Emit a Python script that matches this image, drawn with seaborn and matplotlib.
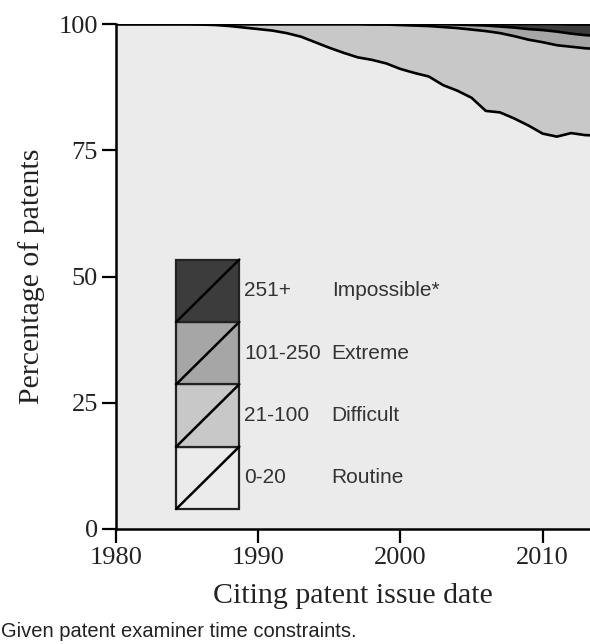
import numpy as np
import pandas as pd
import matplotlib
matplotlib.use("Agg")
import matplotlib.pyplot as plt
from matplotlib.patches import Rectangle
import seaborn as sns

# Share of citing patents by number of prior-art references, per issue year
years = list(range(1980, 2015))
routine = [100.0, 100.0, 100.0, 100.0, 100.0, 100.0, 99.9, 99.8, 99.6, 99.3,
           99.0, 98.7, 98.2, 97.5, 96.4, 95.3, 94.3, 93.4, 92.9, 92.2,
           91.1, 90.3, 89.6, 87.9, 86.8, 85.4, 82.8, 82.5, 81.3, 79.9,
           78.3, 77.7, 78.4, 78.0, 77.9]
difficult = [0.0, 0.0, 0.0, 0.0, 0.0, 0.0, 0.1, 0.2, 0.4, 0.7,
             1.0, 1.3, 1.8, 2.5, 3.6, 4.7, 5.7, 6.6, 7.0, 7.7,
             8.7, 9.4, 10.0, 11.5, 12.4, 13.5, 15.8, 15.7, 16.3, 17.0,
             18.1, 18.1, 17.1, 17.2, 17.1]
extreme = [0.0, 0.0, 0.0, 0.0, 0.0, 0.0, 0.0, 0.0, 0.0, 0.0,
           0.0, 0.0, 0.0, 0.0, 0.0, 0.0, 0.0, 0.0, 0.1, 0.1,
           0.2, 0.3, 0.4, 0.6, 0.7, 0.9, 1.1, 1.3, 1.7, 2.1,
           2.4, 2.7, 2.6, 2.6, 2.6]
impossible = [0.0, 0.0, 0.0, 0.0, 0.0, 0.0, 0.0, 0.0, 0.0, 0.0,
              0.0, 0.0, 0.0, 0.0, 0.0, 0.0, 0.0, 0.0, 0.0, 0.0,
              0.0, 0.0, 0.0, 0.0, 0.1, 0.2, 0.3, 0.5, 0.7, 1.0,
              1.2, 1.5, 1.8, 2.1, 2.3]

ranges = ["0-20", "21-100", "101-250", "251+"]
names = ["Routine", "Difficult", "Extreme", "Impossible*"]
colors = ["#ebebeb", "#c8c8c8", "#a6a6a6", "#3c3c3c"]
footnote = "Given patent examiner time constraints."

sns.set_style("ticks")
serif = ["Liberation Serif", "DejaVu Serif"]
sans = ["Liberation Sans", "DejaVu Sans"]

fig = plt.figure(figsize=(5.9, 6.44), dpi=100)
ax = fig.add_axes([0.1966, 0.1786, 0.8034, 0.7841])

layers = [routine, difficult, extreme, impossible]
ax.stackplot(years, *layers, colors=colors, linewidth=0)

# boundary lines between the stacked layers
cum = np.cumsum(np.array(layers), axis=0)
long = pd.DataFrame({
    "year": years * 4,
    "value": np.concatenate(cum),
    "layer": np.repeat(names, len(years)),
})
sns.lineplot(data=long, x="year", y="value", units="layer", estimator=None,
             color="black", linewidth=1.9, ax=ax)

ax.set_xlim(1980, 2013.33)
ax.set_ylim(0, 100)
ax.set_xticks([1980, 1990, 2000, 2010])
ax.set_yticks([0, 25, 50, 75, 100])
for lab in ax.get_xticklabels() + ax.get_yticklabels():
    lab.set_family(serif)
    lab.set_fontsize(19)
    lab.set_color("#222222")
ax.tick_params(length=10, width=1.6, color="black", pad=3)
for side in ["top", "right"]:
    ax.spines[side].set_visible(False)
for side in ["left", "bottom"]:
    ax.spines[side].set_linewidth(1.8)
    ax.spines[side].set_color("black")

ax.set_xlabel("Citing patent issue date", family=serif, fontsize=21.5,
              color="#222222", labelpad=10)
ax.set_ylabel("Percentage of patents", family=serif, fontsize=21.5,
              color="#222222", labelpad=10)

# hand-drawn legend: stacked swatches with a diagonal stroke
x0, w, h, y0 = 0.127, 0.133, 0.1235, 0.0395
for i, (rng, name, col) in enumerate(zip(ranges, names, colors)):
    yb = y0 + i * h
    ax.add_patch(Rectangle((x0, yb), w, h, transform=ax.transAxes,
                           facecolor=col, edgecolor="#222222", linewidth=1.6,
                           zorder=5))
    ax.plot([x0, x0 + w], [yb, yb + h], transform=ax.transAxes,
            color="black", linewidth=1.8, zorder=6)
    ax.text(0.271, yb + h / 2, rng, transform=ax.transAxes, family=sans,
            fontsize=15, color="#333333", va="center", ha="left", zorder=6)
    ax.text(0.455, yb + h / 2, name, transform=ax.transAxes, family=sans,
            fontsize=15, color="#333333", va="center", ha="left", zorder=6)

fig.text(0.002, 0.019, footnote, family=sans, fontsize=14.5, color="#222222",
         va="center", ha="left")

fig.savefig("out.png", dpi=100)
